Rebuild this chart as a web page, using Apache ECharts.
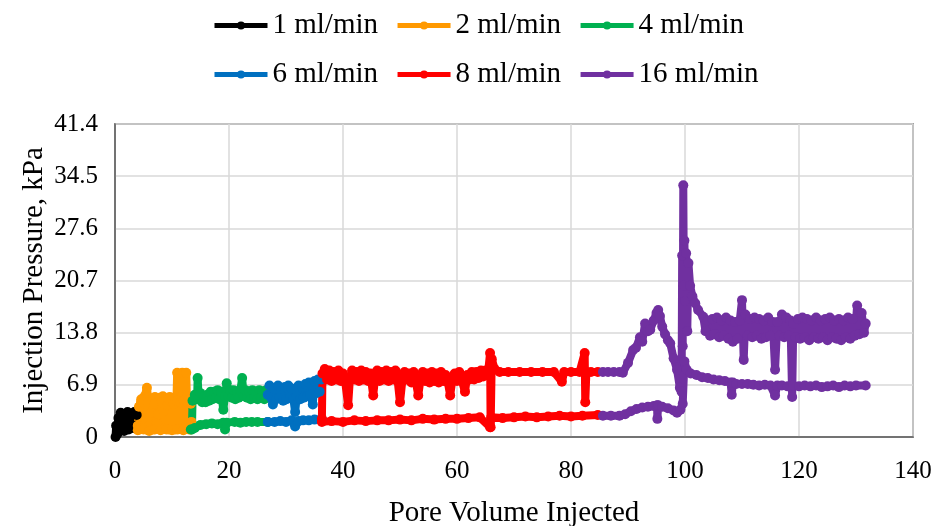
<!DOCTYPE html>
<html><head><meta charset="utf-8">
<script src="https://cdn.jsdelivr.net/npm/echarts@6/dist/echarts.min.js"></script>
<style>html,body{margin:0;padding:0;background:#fff}#c{width:940px;height:526px}</style>
</head><body><div id="c"></div>
<script>
// ---- data ----
const seriesNames = ['1 ml/min','2 ml/min','4 ml/min','6 ml/min','8 ml/min','16 ml/min'];
const seriesColors = ['#000000','#ff9900','#00b050','#0070c0','#ff0000','#7030a0'];
const yTicks = [0, 6.9, 13.8, 20.7, 27.6, 34.5, 41.4];
const xTicks = [0, 20, 40, 60, 80, 100, 120, 140];

const black = [[0.1,0.0],[0.2,1.5],[0.4,0.4],[0.6,2.5],[0.8,0.8],[1.0,3.2],[1.2,1.2],[1.4,3.0],[1.6,0.8],[1.8,2.6],[2.0,1.4],[2.2,3.3],[2.4,1.0],[2.6,2.8],[2.8,1.4],[3.0,3.1],[3.2,1.2],[3.4,3.3],[3.6,1.5],[3.8,2.9]];

const orangeUpper = [[4.0,1.5],[4.2,4.0],[4.6,5.0],[5.2,5.4],[5.5,5.3],[5.6,6.5],[5.8,5.3],[6.4,5.0],[7.0,5.3],[7.8,5.2],[8.4,5.4],[9.0,5.1],[9.6,5.3],[10.2,5.2],[10.8,5.3],[10.9,8.5],[11.0,5.4],[11.7,5.5],[11.8,8.5],[11.9,5.5],[12.4,5.4],[12.5,8.5],[12.6,5.4],[13.2,5.0],[13.4,2.0]];
const orangeFill = [[4.3,1.0],[4.6,4.6],[4.9,1.2],[5.2,4.8],[5.5,1.0],[5.8,4.6],[6.1,1.6],[6.4,3.2],[6.7,1.0],[7.0,4.4],[7.3,1.8],[7.6,3.0],[7.9,1.0],[8.2,4.6],[8.5,3.4],[8.8,1.2],[9.1,4.2],[9.4,1.0],[9.7,4.8],[10.0,1.2],[10.3,4.4],[10.6,1.0],[10.9,4.8],[11.2,1.2],[11.5,4.6],[11.8,1.0],[12.1,4.8],[12.4,1.2],[12.7,4.6],[13.0,1.0],[13.3,4.4]];
const orangeLower = [[4.0,0.9],[5.0,1.0],[6.0,0.8],[7.0,1.0],[8.0,0.9],[9.0,1.0],[10.0,0.9],[11.0,1.0],[12.0,0.9],[13.3,1.0]];

const greenUpper = [[13.5,1.0],[13.6,4.8],[14.0,5.6],[14.4,5.0],[14.5,7.8],[14.7,5.0],[15.0,5.8],[15.3,4.6],[15.6,5.4],[15.9,4.6],[16.2,5.6],[16.5,4.8],[16.8,6.0],[17.1,5.0],[17.4,6.0],[17.7,5.2],[18.0,6.2],[18.3,5.0],[18.6,6.0],[19.0,3.6],[19.3,5.4],[19.6,7.1],[19.9,5.4],[20.2,6.2],[20.5,5.2],[20.8,6.2],[21.1,5.0],[21.4,6.0],[21.7,5.2],[22.0,6.2],[22.3,7.8],[22.6,5.4],[22.9,6.2],[23.2,5.2],[23.5,6.0],[23.8,5.0],[24.1,6.2],[24.4,5.2],[24.7,6.0],[25.0,5.0],[25.3,6.2],[25.6,5.2],[25.9,6.0],[26.2,5.0],[26.5,6.2],[26.8,5.6]];
const greenLower = [[13.3,1.0],[14.0,1.2],[15.0,1.6],[16.0,1.7],[17.0,1.8],[18.0,1.7],[19.0,1.9],[19.3,1.0],[19.6,1.9],[21.0,2.0],[22.0,1.9],[23.0,2.0],[24.0,2.0],[25.0,2.0],[26.8,2.0]];

const blueUpper = [[26.8,5.6],[27.1,6.8],[27.4,5.2],[27.7,4.3],[28.0,6.4],[28.3,5.0],[28.6,6.8],[28.9,5.2],[29.2,6.4],[29.5,4.8],[29.8,6.6],[30.1,5.0],[30.4,6.8],[30.7,5.2],[31.0,6.4],[31.3,5.0],[31.6,3.3],[31.9,5.4],[32.2,6.8],[32.5,5.0],[32.8,6.6],[33.1,5.2],[33.4,7.0],[33.7,5.4],[34.0,7.2],[34.3,5.6],[34.7,4.3],[35.0,7.4],[35.3,5.8],[35.6,7.6],[35.9,6.0],[36.2,7.6]];
const blueLower = [[26.8,2.0],[28.0,2.0],[29.0,2.1],[30.0,2.0],[31.0,2.2],[31.6,1.4],[32.2,2.1],[33.0,2.2],[34.0,2.2],[35.0,2.3],[36.3,2.3]];

const redUpper = [[36.3,2.4],[36.4,8.4],[36.8,9.0],[37.2,7.6],[37.6,8.8],[38.0,7.4],[38.4,8.6],[38.8,7.6],[39.2,8.8],[39.6,7.4],[40.0,8.4],[40.4,7.2],[40.9,4.2],[41.2,7.6],[41.6,8.8],[42.0,7.6],[42.4,8.6],[42.8,7.4],[43.2,8.8],[43.6,7.6],[44.0,8.6],[44.4,7.4],[44.8,8.4],[45.3,5.5],[45.6,7.6],[46.0,8.8],[46.4,7.4],[46.8,8.6],[47.2,7.6],[47.6,8.8],[48.0,7.4],[48.4,8.6],[48.8,7.6],[49.2,8.8],[49.6,7.4],[50.0,4.6],[50.4,7.4],[50.8,8.6],[51.2,7.6],[51.6,8.4],[52.0,7.2],[52.4,8.6],[52.8,7.2],[53.2,5.5],[53.6,7.6],[54.0,8.6],[54.4,7.4],[54.8,8.4],[55.2,7.2],[55.6,8.6],[56.0,7.4],[56.4,8.4],[56.8,7.2],[57.2,8.6],[57.6,7.4],[58.0,8.2],[58.4,7.2],[58.8,5.5],[59.2,7.6],[59.6,8.4],[60.0,7.4],[60.4,8.6],[60.8,7.6],[61.4,6.0],[61.8,8.2],[62.2,7.6],[62.6,8.6],[63.0,7.6],[63.4,8.6],[63.8,7.8],[64.2,8.8],[64.6,8.0],[65.0,8.8],[65.4,8.2],[65.8,11.1],[65.9,1.3],[66.1,10.3],[66.6,9.0],[67.5,8.6],[69.0,8.6],[71.0,8.6],[73.0,8.6],[75.0,8.6],[77.0,8.6],[78.4,7.3],[78.8,8.6],[80.0,8.6],[81.5,8.6],[82.4,11.1],[82.5,4.6],[82.7,8.6],[83.5,8.6],[84.7,8.6]];
const redLower = [[36.3,2.0],[38.0,2.1],[40.0,2.0],[42.0,2.2],[44.0,2.1],[46.0,2.2],[48.0,2.2],[50.0,2.3],[52.0,2.2],[54.0,2.4],[56.0,2.3],[58.0,2.4],[60.0,2.4],[62.0,2.5],[64.0,2.6],[65.8,1.3],[66.0,2.6],[68.0,2.5],[70.0,2.6],[72.0,2.7],[74.0,2.6],[76.0,2.7],[78.0,2.8],[80.0,2.7],[82.0,2.8],[84.7,2.9]];

const purpleUpper = [[85.6,8.6],[86.5,8.6],[87.5,8.6],[88.5,8.6],[89.1,8.5],[90.0,9.8],[90.9,11.5],[91.4,11.8],[92.1,13.2],[92.5,12.6],[93.0,15.0],[93.5,14.0],[93.9,14.2],[94.5,15.4],[95.0,16.4],[95.3,16.8],[95.6,16.0],[96.0,14.6],[96.5,13.6],[97.0,12.8],[97.4,12.4],[98.0,10.4],[98.6,8.9],[99.1,6.5],[99.4,6.0],[99.5,24.0],[99.6,12.0],[99.7,33.3],[99.8,20.0],[99.9,26.0],[100.0,18.0],[100.2,24.3],[100.4,14.0],[100.6,23.0],[100.9,20.0],[101.3,18.6],[101.8,17.7],[102.3,16.8],[103.2,15.9],[103.6,14.0],[104.0,15.4],[104.4,13.4],[104.8,15.6],[105.2,13.6],[105.6,15.8],[106.0,13.2],[106.4,15.4],[106.8,13.4],[107.2,15.8],[107.6,13.0],[108.0,15.4],[108.4,12.6],[108.8,15.2],[109.2,13.0],[109.6,15.4],[110.0,18.1],[110.3,10.2],[110.6,16.2],[111.0,13.4],[111.4,15.6],[111.8,13.2],[112.2,15.8],[112.6,13.4],[113.0,15.6],[113.4,13.0],[113.8,15.4],[114.2,13.2],[114.6,15.8],[115.0,13.4],[115.4,15.2],[115.8,8.9],[116.2,15.2],[116.6,13.4],[117.0,16.2],[117.4,13.2],[117.8,15.8],[118.2,13.4],[118.5,15.4],[118.8,5.3],[119.0,15.0],[119.4,13.2],[119.8,15.6],[120.2,13.0],[120.6,15.8],[121.0,13.2],[121.4,15.6],[121.8,12.8],[122.2,15.4],[122.6,13.2],[123.0,15.8],[123.4,13.0],[123.8,15.4],[124.2,13.2],[124.6,15.6],[125.0,12.8],[125.4,15.8],[125.8,13.2],[126.2,15.4],[126.6,13.0],[127.0,15.6],[127.4,12.8],[127.8,15.4],[128.2,13.2],[128.6,15.8],[129.0,13.0],[129.4,15.6],[129.8,13.4],[130.2,17.4],[130.6,13.6],[131.0,16.4],[131.4,13.8],[131.7,15.0]];
const purpleLower = [[85.6,2.8],[87.0,2.8],[88.5,2.8],[89.5,3.0],[90.5,3.4],[91.5,3.7],[92.5,3.9],[93.5,4.0],[94.5,4.1],[95.1,4.2],[95.15,2.4],[95.3,4.2],[96.0,4.0],[97.0,3.8],[98.0,3.5],[98.6,3.2],[99.2,3.6],[99.6,4.4],[99.9,10.0],[100.3,8.9],[101.0,8.4],[102.0,8.2],[103.0,7.9],[104.0,7.8],[105.0,7.6],[106.0,7.5],[107.0,7.4],[108.0,7.2],[108.2,5.6],[108.4,7.2],[109.0,7.0],[110.0,7.0],[111.0,7.0],[112.0,6.9],[113.0,6.8],[114.0,6.9],[115.0,6.8],[115.8,5.5],[116.2,6.8],[117.0,6.8],[118.0,6.7],[119.0,6.8],[120.0,6.7],[121.0,6.8],[122.0,6.7],[123.0,6.8],[124.0,6.6],[125.0,6.7],[126.0,6.8],[127.0,6.6],[128.0,6.8],[129.0,6.7],[130.0,6.8],[131.7,6.8]];

const groups = [
  [black],
  [orangeUpper, orangeFill, orangeLower],
  [greenUpper, greenLower],
  [blueUpper, blueLower],
  [redUpper, redLower],
  [purpleUpper, purpleLower]
];

// ---- chart ----
const FONT = 'Liberation Serif';
const series = [];
groups.forEach((arrs, i) => {
  arrs.forEach(d => {
    series.push({
      name: seriesNames[i], type: 'line', data: d,
      symbol: 'circle', symbolSize: 10, showAllSymbol: true,
      itemStyle: { color: seriesColors[i] },
      lineStyle: { color: seriesColors[i], width: 8 },
      animation: false
    });
  });
});

const legendCommon = {
  left: 212, padding: 0, itemWidth: 53, itemHeight: 10, itemGap: 17,
  textStyle: { fontFamily: FONT, fontSize: 29, color: '#000' },
  lineStyle: { width: 5 },
  itemStyle: { borderWidth: 0 }
};

const chart = echarts.init(document.getElementById('c'));
chart.setOption({
  backgroundColor: '#fff',
  legend: [
    Object.assign({ top: 11, data: seriesNames.slice(0, 3) }, legendCommon),
    Object.assign({ top: 60, data: seriesNames.slice(3) }, legendCommon)
  ],
  grid: { left: 115, right: 27, top: 124, bottom: 89, outerBoundsMode: 'none', containLabel: false,
          show: true, borderColor: '#595959', borderWidth: 1.5 },
  xAxis: {
    type: 'value', min: xTicks[0], max: xTicks[xTicks.length - 1], interval: 20,
    name: 'Pore Volume Injected', nameLocation: 'middle', nameGap: 62, nameMoveOverlap: false,
    nameTextStyle: { fontFamily: FONT, fontSize: 29, color: '#000' },
    axisLine: { show: true, lineStyle: { color: '#595959', width: 1.5 } },
    axisTick: { show: false },
    axisLabel: { margin: 22, fontFamily: FONT, fontSize: 25, color: '#000' },
    splitLine: { show: true, lineStyle: { color: '#d9d9d9', width: 1.5 } }
  },
  yAxis: {
    type: 'value', min: yTicks[0], max: yTicks[yTicks.length - 1], interval: 6.9,
    name: 'Injection Pressure, kPa', nameLocation: 'middle', nameGap: 66, nameMoveOverlap: false,
    nameTextStyle: { fontFamily: FONT, fontSize: 29, color: '#000' },
    axisLine: { show: true, lineStyle: { color: '#595959', width: 1.5 } },
    axisTick: { show: false },
    axisLabel: { margin: 17, fontFamily: FONT, fontSize: 25, color: '#000',
      formatter: v => v === 0 ? '0' : v.toFixed(1) },
    splitLine: { show: true, lineStyle: { color: '#d9d9d9', width: 1.5 } }
  },
  series: series
});
</script></body></html>
